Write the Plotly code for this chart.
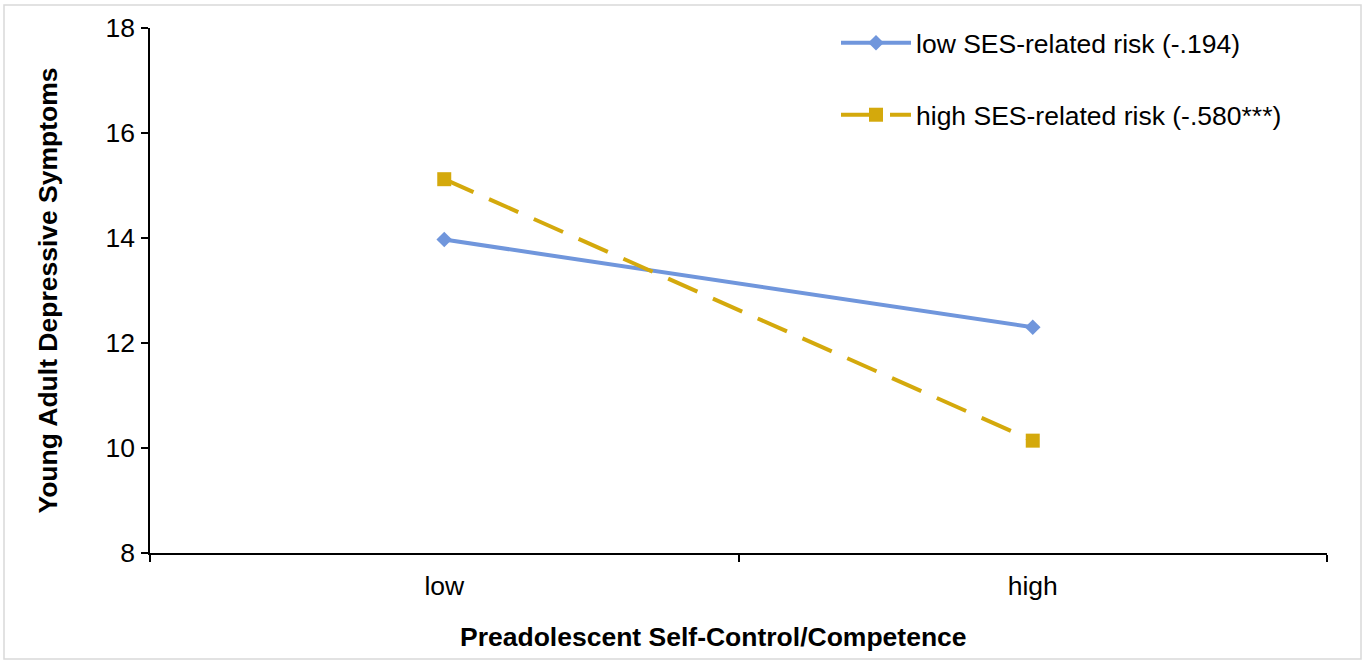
import plotly.graph_objects as go

categories = ["low", "high"]
low_ses = [13.97, 12.30]
high_ses = [15.12, 10.14]
series_names = ["low SES-related risk (-.194)", "high SES-related risk (-.580***)"]
y_ticks = [8, 10, 12, 14, 16, 18]
x_title = "Preadolescent Self-Control/Competence"
y_title = "Young Adult Depressive Symptoms"

BLUE = "#7096DC"
GOLD = "#D4A90C"
FONT = "Liberation Sans, Arial, sans-serif"
FS = 26.5

W, H = 1365, 663
L, R, T, B = 150, 38, 28, 110
PW, PH = W - L - R, H - T - B

fig = go.Figure()
fig.add_trace(go.Scatter(
    x=categories, y=low_ses, name=series_names[0], mode="lines+markers",
    line=dict(color=BLUE, width=4),
    marker=dict(symbol="diamond", size=12, color=BLUE),
    legend="legend",
))
fig.add_trace(go.Scatter(
    x=categories, y=high_ses, name=series_names[1], mode="lines+markers",
    line=dict(color=GOLD, width=4, dash="32px,17px"),
    marker=dict(symbol="square", size=14, color=GOLD),
    legend="legend2",
))

fig.update_layout(
    width=W, height=H,
    margin=dict(l=L, r=R, t=T, b=B),
    paper_bgcolor="white", plot_bgcolor="white",
    font=dict(family=FONT, size=FS, color="#000000"),
    showlegend=True,
    legend=dict(x=(836 - L) / PW, y=1 + (T - 19) / PH, xanchor="left", yanchor="top",
                bgcolor="rgba(0,0,0,0)", font=dict(size=FS), itemwidth=70),
    legend2=dict(x=(836 - L) / PW, y=1 - (91 - T) / PH, xanchor="left", yanchor="top",
                 bgcolor="rgba(0,0,0,0)", font=dict(size=FS), itemwidth=70),
    xaxis=dict(
        type="category", range=[-0.5, 1.5], tickson="boundaries",
        showline=True, linecolor="#000000", linewidth=1.5,
        ticks="outside", ticklen=7, tickcolor="#000000", tickwidth=1.5,
        ticklabelstandoff=8,
        showgrid=False, zeroline=False,
        tickfont=dict(size=FS),
    ),
    yaxis=dict(
        range=[8, 18], tickvals=y_ticks,
        showline=True, linecolor="#000000", linewidth=1.5,
        ticks="outside", ticklen=7, tickcolor="#000000", tickwidth=1.5,
        ticklabelstandoff=1,
        showgrid=False, zeroline=False,
        tickfont=dict(size=FS),
        title=dict(text=f"<b>{y_title}</b>", font=dict(size=FS), standoff=40),
    ),
    annotations=[dict(text=f"<b>{x_title}</b>", xref="paper", yref="paper",
                      x=(713 - L) / PW, y=1 - (637 - T) / PH,
                      xanchor="center", yanchor="middle", showarrow=False,
                      font=dict(size=FS))],
    shapes=[dict(type="rect", xref="paper", yref="paper",
                 x0=(4 - L) / PW, x1=(1361 - L) / PW,
                 y0=1 - (659 - T) / PH, y1=1 - (5 - T) / PH,
                 line=dict(color="#D9D9D9", width=1.5), layer="below")],
)

fig.write_html("out.html", config={"displayModeBar": False},
               post_script="document.body.style.margin='0';")
